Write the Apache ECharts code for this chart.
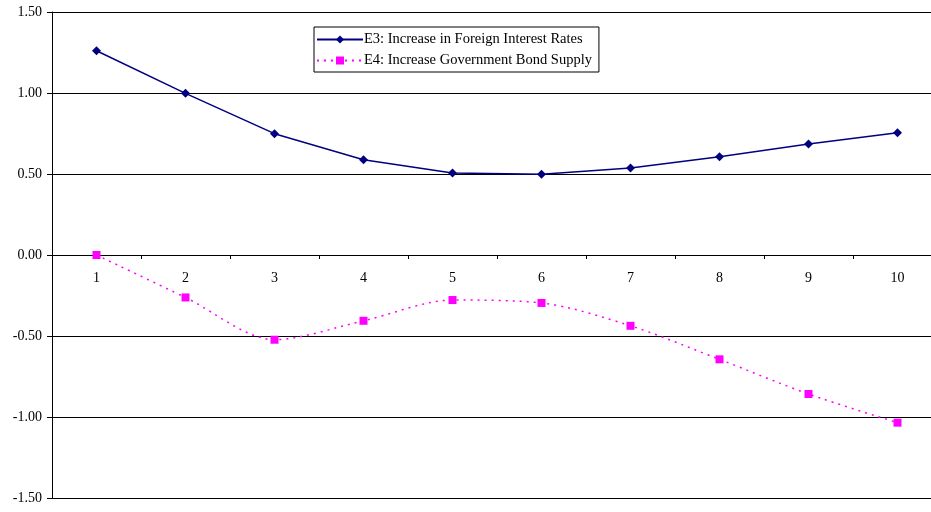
<!DOCTYPE html>
<html><head><meta charset="utf-8">
<script src="https://cdn.jsdelivr.net/npm/echarts@6/dist/echarts.min.js"></script>
<style>html,body{margin:0;padding:0;background:#fff}#c{width:931px;height:512px}</style>
</head><body><div id="c"></div>
<script>
const categories = ['1','2','3','4','5','6','7','8','9','10'];
const e3Name = 'E3: Increase in Foreign Interest Rates';
const e4Name = 'E4: Increase Government Bond Supply';
const e3Values = [1.261, 0.998, 0.749, 0.588, 0.506, 0.498, 0.537, 0.607, 0.685, 0.755];
const e4Values = [0.000, -0.262, -0.523, -0.406, -0.278, -0.296, -0.437, -0.644, -0.858, -1.035];
const yTicks = [-1.5, -1.0, -0.5, 0, 0.5, 1.0, 1.5];

const font = '"Liberation Serif", "Times New Roman", serif';
const gridHeight = 486;
const chart = echarts.init(document.getElementById('c'));
chart.setOption({
  animation: false,
  backgroundColor: '#fff',
  textStyle: { fontFamily: font },
  grid: { left: 52, top: 12, width: 890, height: gridHeight, containLabel: false, outerBoundsMode: 'none' },
  legend: {
    orient: 'vertical', left: 314, top: 27,
    borderColor: '#000', borderWidth: 1, padding: [5, 7, 4, 2],
    itemWidth: 46, itemHeight: 10, itemGap: 6,
    textStyle: { fontFamily: font, fontSize: 14.5, color: '#000', padding: [0, 0, 0, -4] },
    data: [e3Name, e4Name]
  },
  xAxis: {
    type: 'category', data: categories, boundaryGap: true,
    position: 'bottom', offset: -gridHeight / 2,
    axisLine: { onZero: false, lineStyle: { color: '#000', width: 1 } },
    axisTick: { show: true, inside: false, length: 4, lineStyle: { color: '#000' } },
    axisLabel: { fontFamily: font, fontSize: 14, color: '#000', margin: 16 },
    splitLine: { show: false }
  },
  yAxis: {
    type: 'value', min: yTicks[0], max: yTicks[yTicks.length - 1], interval: 0.5,
    axisLine: { show: true, lineStyle: { color: '#000', width: 1 } },
    axisTick: { show: true, length: 5, lineStyle: { color: '#000' } },
    axisLabel: { fontFamily: font, fontSize: 14, color: '#000', margin: 10,
      formatter: v => v.toFixed(2) },
    splitLine: { show: true, lineStyle: { color: '#000', width: 1 } }
  },
  series: [
    {
      name: e3Name, type: 'line', data: e3Values, smooth: false,
      symbol: 'diamond', symbolSize: 9,
      itemStyle: { color: '#000080' },
      lineStyle: { color: '#000080', width: 1.5 }
    },
    {
      name: e4Name, type: 'line', data: e4Values, smooth: 0.3,
      symbol: 'rect', symbolSize: 8,
      itemStyle: { color: '#FF00FF' },
      lineStyle: { color: '#FF00FF', width: 1.5, type: [2, 5] }
    }
  ]
});
</script></body></html>
